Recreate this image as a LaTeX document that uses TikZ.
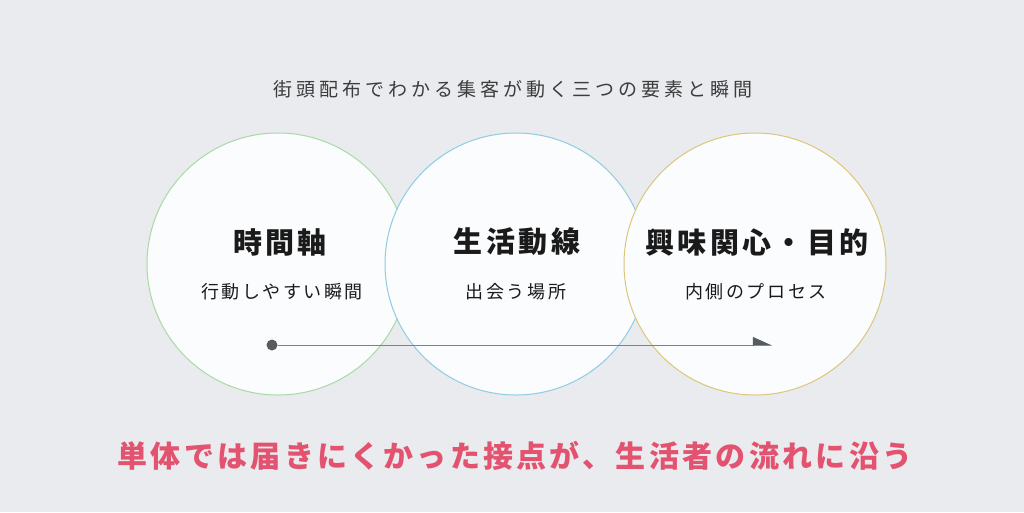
\documentclass[tikz,border=0pt]{standalone}
\usepackage{fontspec}
\usetikzlibrary{arrows.meta}
\setmainfont{Noto Sans CJK JP}

\definecolor{bg}{HTML}{E9EBEE}
\definecolor{discfill}{HTML}{FBFCFD}
\definecolor{greenedge}{HTML}{A9D9A6}
\definecolor{blueedge}{HTML}{8DCCE2}
\definecolor{goldedge}{HTML}{DCC67C}
\definecolor{linegray}{HTML}{7C8386}
\definecolor{dotgray}{HTML}{555B5E}
\definecolor{accent}{HTML}{E3536F}
\definecolor{ink}{HTML}{1A1A1A}

\tikzset{
  disc/.style={circle, minimum size=262pt, inner sep=0pt, fill=discfill, line width=1pt},
  head/.style={text=ink, font=\fontsize{29}{32}\selectfont\bfseries\addfontfeatures{LetterSpace=12}},
  sub/.style={text=ink, font=\fontsize{18}{20}\selectfont\addfontfeatures{LetterSpace=14}},
  titletext/.style={text=ink!85, font=\fontsize{19}{21}\selectfont\addfontfeatures{LetterSpace=21}},
  message/.style={text=accent, font=\fontsize{30}{33}\selectfont\bfseries\addfontfeatures{LetterSpace=11}}
}

\begin{document}
\begin{tikzpicture}[x=1pt, y=-1pt]
                \useasboundingbox (0, 0) rectangle (1024, 512);
                \fill[bg] (0, 0) rectangle (1024, 512);

                \node (title) at (513, 89) [titletext] {街頭配布でわかる集客が動く三つの要素と瞬間};

                \node (time) at (278, 264) [disc, draw=greenedge] {};
                \node (route) at (516, 264) [disc, draw=blueedge] {};
                \node (interest) at (755, 264) [disc, draw=goldedge] {};

                \node (timeH) at (280, 242) [head] {時間軸};
                \node (timeS) at (282, 292) [sub] {行動しやすい瞬間};
                \node (routeH) at (517, 242) [head] {生活動線};
                \node (routeS) at (516, 292) [sub] {出会う場所};
                \node (interestH) at (757, 242) [head] {興味関心・目的};
                \node (interestS) at (756, 292) [sub] {内側のプロセス};

                \node (start) at (272, 345) [circle, fill=dotgray, minimum size=11pt, inner sep=0pt] {};
                \coordinate (end) at (772, 345);

                \draw[linegray, line width=1pt, -{Triangle[harpoon, length=18pt, width=16pt, color=dotgray, fill=dotgray]}] (start) to (end);

                \node (msg) at (515, 456) [message] {単体では届きにくかった接点が、生活者の流れに沿う};
            \end{tikzpicture}
\end{document}
